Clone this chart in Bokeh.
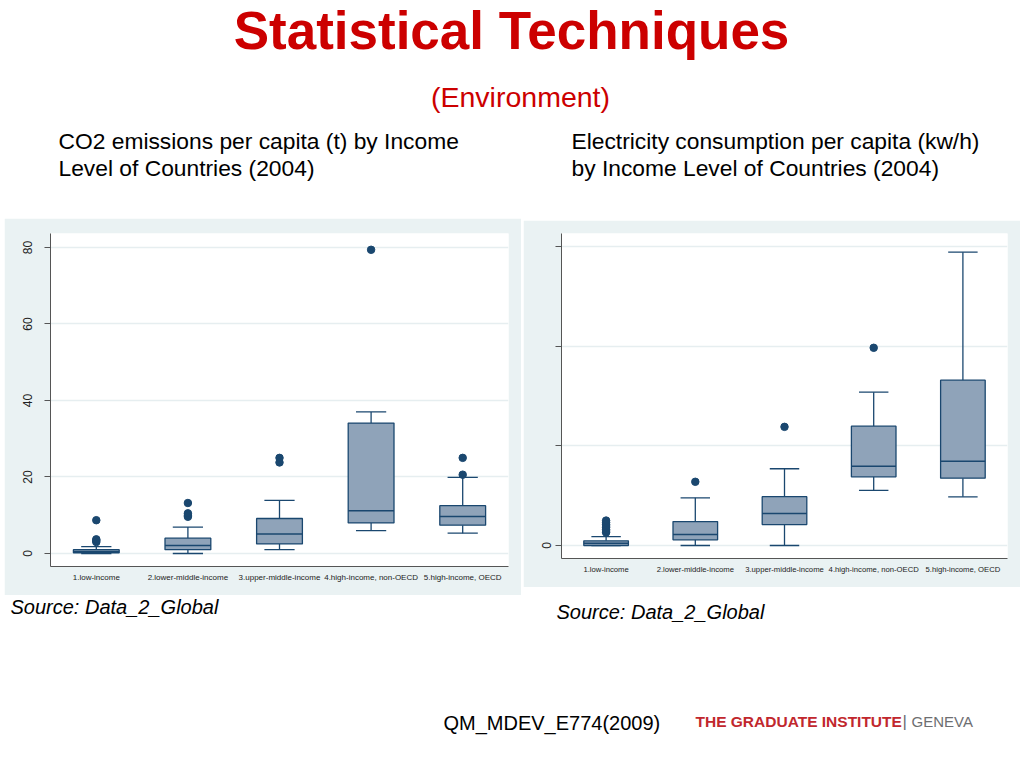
from bokeh.plotting import figure
from bokeh.layouts import column, row
from bokeh.models import Range1d, FixedTicker, Spacer
from bokeh.core.properties import value
from bokeh.embed import file_html
from bokeh.resources import INLINE

# ---------------- data ----------------
categories = ["1.low-income", "2.lower-middle-income", "3.upper-middle-income",
              "4.high-income, non-OECD", "5.high-income, OECD"]

# CO2 emissions per capita (t)
co2_low = [0.0, 0.0, 1.0, 6.0, 5.3]
co2_q1 = [0.2, 1.0, 2.5, 8.0, 7.4]
co2_med = [0.5, 2.1, 5.1, 11.2, 9.7]
co2_q3 = [1.0, 4.0, 9.15, 34.1, 12.5]
co2_high = [1.8, 6.9, 13.9, 37.0, 19.9]
co2_out_cat = [1, 1, 1, 1, 2, 2, 2, 2, 3, 3, 4, 5, 5]
co2_out_val = [3.0, 3.4, 3.7, 8.7, 9.6, 10.0, 10.5, 13.2, 23.8, 25.0, 79.4, 20.6, 25.0]
co2_ticks = [0, 20, 40, 60, 80]

# Electricity consumption per capita (kWh)
el_low = [0, 0, 0, 5520, 4880]
el_q1 = [0, 570, 2100, 6890, 6750]
el_med = [230, 1100, 3200, 7950, 8450]
el_q3 = [470, 2400, 4900, 11970, 16580]
el_high = [900, 4780, 7700, 15380, 29420]
el_out_cat = [1, 1, 1, 1, 1, 1, 1, 1, 2, 3, 4]
el_out_val = [1300, 1450, 1600, 1800, 1950, 2100, 2300, 2500, 6390, 11900, 19830]
el_ticks = [0, 10000, 20000, 30000]
el_tick_labels = {0: "0", 10000: "", 20000: "", 30000: ""}

title_text = "Statistical Techniques"
subtitle_text = "(Environment)"
left_caption = ["CO2 emissions per capita (t) by Income", "Level of Countries (2004)"]
right_caption = ["Electricity consumption per capita (kw/h)", "by Income Level of Countries (2004)"]
source_text = "Source: Data_2_Global"
course_text = "QM_MDEV_E774(2009)"

# ---------------- styles ----------------
FONT = "Liberation Sans"
PANEL_BG = "#eaf2f3"
BOX_FILL = "#8fa3b9"
NAVY = "#1a476f"
RED = "#cc0000"


def text_fig(w, h):
    f = figure(width=w, height=h, x_range=Range1d(0, w), y_range=Range1d(h, 0),
               output_backend="svg", toolbar_location=None,
               min_border=0, min_border_left=0, min_border_right=0,
               min_border_top=0, min_border_bottom=0)
    f.axis.visible = False
    f.grid.visible = False
    f.outline_line_color = None
    f.background_fill_color = "white"
    f.border_fill_color = "white"
    return f


def put(f, x, y, t, size, color="black", style="normal", align="left"):
    f.text(x=[x], y=[y], text=[t], text_font=value(FONT), text_font_size=value(size),
           text_font_style=style, text_color=color, text_align=align,
           text_baseline="alphabetic")


def box_fig(w, h, yr, borders, ticks, overrides, standoff, xlabel_size):
    n = len(categories)
    f = figure(width=w, height=h, x_range=Range1d(0.5, n + 0.5), y_range=Range1d(*yr),
               output_backend="svg", toolbar_location=None,
               min_border_left=borders[0], min_border_right=borders[1],
               min_border_top=borders[2], min_border_bottom=borders[3])
    f.border_fill_color = PANEL_BG
    f.background_fill_color = "white"
    f.outline_line_color = None
    f.xgrid.visible = False
    f.ygrid.grid_line_color = "#e6eef0"
    f.ygrid.grid_line_width = 1.5
    f.yaxis.ticker = FixedTicker(ticks=ticks)
    if overrides:
        f.yaxis.major_label_overrides = overrides
    f.yaxis.minor_tick_line_color = None
    f.yaxis.major_tick_out = 6
    f.yaxis.major_tick_in = 0
    f.yaxis.major_label_orientation = "vertical"
    f.yaxis.major_label_standoff = standoff
    f.yaxis.major_label_text_font = FONT
    f.yaxis.major_label_text_font_size = "12px"
    f.yaxis.major_label_text_color = "#222222"
    f.xaxis.ticker = FixedTicker(ticks=list(range(1, n + 1)))
    f.xaxis.major_label_overrides = {i + 1: c for i, c in enumerate(categories)}
    f.xaxis.minor_tick_line_color = None
    f.xaxis.major_tick_out = 0
    f.xaxis.major_tick_in = 0
    f.xaxis.major_label_standoff = 6
    f.xaxis.major_label_text_font = FONT
    f.xaxis.major_label_text_font_size = xlabel_size
    f.xaxis.major_label_text_color = "#222222"
    for ax in (f.xaxis, f.yaxis):
        ax.axis_line_color = "#555555"
        ax.major_tick_line_color = "#555555"
    return f


def draw_boxes(f, low, q1, med, q3, high, ocat, oval):
    xs = list(range(1, len(categories) + 1))
    f.segment(x0=xs, y0=q3, x1=xs, y1=high, line_color=NAVY, line_width=1.3)
    f.segment(x0=xs, y0=low, x1=xs, y1=q1, line_color=NAVY, line_width=1.3)
    f.segment(x0=[x - 0.165 for x in xs], y0=high, x1=[x + 0.165 for x in xs], y1=high,
              line_color=NAVY, line_width=1.3)
    f.segment(x0=[x - 0.165 for x in xs], y0=low, x1=[x + 0.165 for x in xs], y1=low,
              line_color=NAVY, line_width=1.3)
    f.vbar(x=xs, bottom=q1, top=q3, width=0.5, fill_color=BOX_FILL,
           line_color=NAVY, line_width=1.3)
    f.segment(x0=[x - 0.25 for x in xs], y0=med, x1=[x + 0.25 for x in xs], y1=med,
              line_color=NAVY, line_width=1.5)
    f.scatter(x=ocat, y=oval, size=7.5, fill_color=NAVY, line_color=NAVY)


# ---------------- header ----------------
header = text_fig(1020, 218)
put(header, 511, 30, title_text, "53px", RED, "bold", "center")
put(header, 520, 96, subtitle_text, "28.5px", RED, "normal", "center")
put(header, 58, 140, left_caption[0], "22.8px")
put(header, 58, 167, left_caption[1], "22.8px")
put(header, 571, 140, right_caption[0], "22.8px")
put(header, 571, 167, right_caption[1], "22.8px")

# ---------------- charts ----------------
left = box_fig(517, 377, (-3.4, 83.66), (46, 13, 15, 29), co2_ticks, None, 12, "8px")
draw_boxes(left, co2_low, co2_q1, co2_med, co2_q3, co2_high, co2_out_cat, co2_out_val)

right = box_fig(497, 367, (-1304, 31294), (38, 13, 13, 29), el_ticks, el_tick_labels, 4, "7.7px")
draw_boxes(right, el_low, el_q1, el_med, el_q3, el_high, el_out_cat, el_out_val)

middle = row(Spacer(width=4, height=377), left, Spacer(width=2, height=377),
             column(Spacer(width=497, height=2), right, Spacer(width=497, height=8)))

# ---------------- footer ----------------
footer = text_fig(1020, 171)
put(footer, 10, 11, source_text, "20px", "black", "italic")
put(footer, 556, 16, source_text, "20px", "black", "italic")
put(footer, 443, 127, course_text, "20px")
put(footer, 695, 126, "THE GRADUATE INSTITUTE", "15.5px", "#c1272d", "bold")
put(footer, 902, 126, "|", "17px", "#6d6e71")
put(footer, 911, 126, "GENEVA", "15px", "#6d6e71")

page = column(header, middle, footer)
open("out.html", "w").write(file_html(page, INLINE))
